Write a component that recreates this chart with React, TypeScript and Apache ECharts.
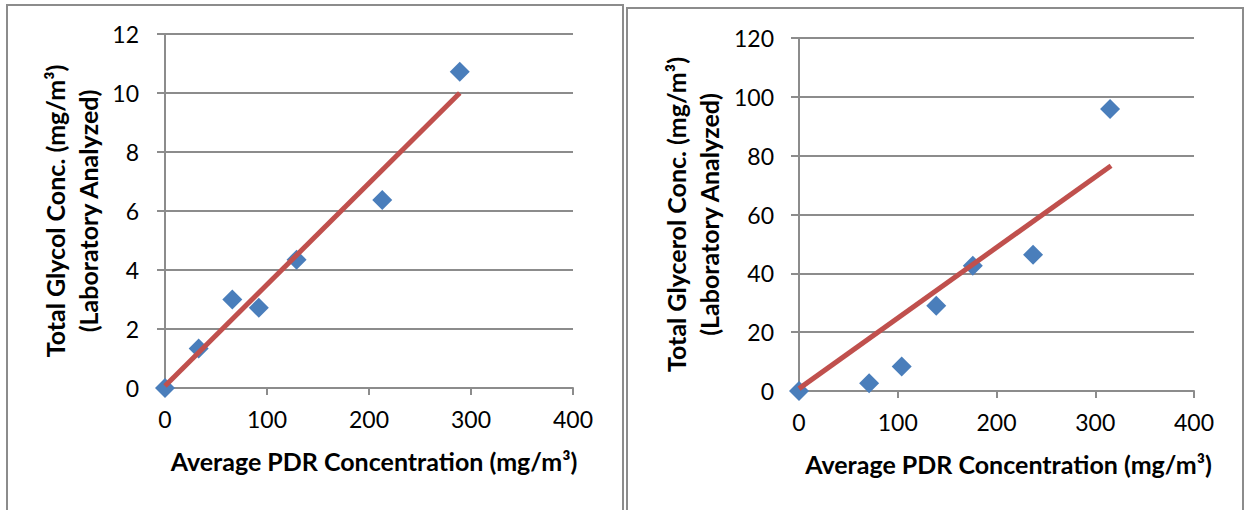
import React, { useEffect, useRef } from "react";
import * as echarts from "echarts";

const xTickValues = [0, 100, 200, 300, 400];
const glycolX = [0, 33, 66, 92, 129, 213, 289];
const glycolY = [0, 1.34, 3.0, 2.72, 4.35, 6.37, 10.72];
const glycolTrendX = [0, 289];
const glycolTrendY = [0.07, 10.0];
const glycerolX = [0, 71, 104, 139, 176, 237, 315];
const glycerolY = [0, 2.6, 8.3, 29.0, 42.6, 46.3, 95.9];
const glycerolTrendX = [0, 316];
const glycerolTrendY = [0.8, 76.6];

const xTitle = "Average PDR Concentration (mg/m³)";
const leftYTitle = "Total Glycol Conc. (mg/m³)\n(Laboratory Analyzed)";
const rightYTitle = "Total Glycerol Conc. (mg/m³)\n(Laboratory Analyzed)";

const GREY = "#8c8c8c";
const FONT = "Lato";
const BLUE = "#4A7EBB";
const RED = "#C0504D";

function pairs(xs: number[], ys: number[]) {
  return xs.map((x, i) => [x, ys[i]]);
}

function xAxisCfg(gridIndex: number, shift: number) {
  return {
    type: "value",
    gridIndex,
    min: xTickValues[0],
    max: xTickValues[xTickValues.length - 1],
    interval: 100,
    axisLine: { show: true, onZero: false, lineStyle: { color: GREY, width: 2 } },
    axisTick: { show: true, length: 7, lineStyle: { color: GREY, width: 2 } },
    splitLine: { show: false },
    axisLabel: { color: "#000", fontSize: 23, fontFamily: FONT, margin: 19 },
    name: xTitle,
    nameLocation: "middle",
    nameGap: 60,
    nameTextStyle: {
      fontWeight: "bold",
      fontSize: 25,
      color: "#000",
      fontFamily: FONT,
      padding: [0, 0, 0, shift * 2],
    },
  };
}

function yAxisCfg(
  gridIndex: number,
  max: number,
  interval: number,
  name: string,
  margin: number,
  gap: number
) {
  return {
    type: "value",
    gridIndex,
    min: 0,
    max,
    interval,
    axisLine: { show: true, onZero: false, lineStyle: { color: GREY, width: 2 } },
    axisTick: { show: true, length: 8, lineStyle: { color: GREY, width: 2 } },
    splitLine: { show: true, lineStyle: { color: GREY, width: 2 } },
    axisLabel: { color: "#000", fontSize: 23, fontFamily: FONT, margin },
    name,
    nameLocation: "middle",
    nameRotate: 90,
    nameGap: gap,
    nameTextStyle: {
      fontWeight: "bold",
      fontSize: 25,
      lineHeight: 33,
      color: "#000",
      fontFamily: FONT,
    },
  };
}

export default function App() {
  const ref = useRef<HTMLDivElement>(null);
  useEffect(() => {
    if (!ref.current) return;
    const chart = echarts.init(ref.current, undefined, { renderer: "svg" });
    chart.setOption({
      animation: false,
      backgroundColor: "#ffffff",
      textStyle: { fontFamily: FONT },
      graphic: [
        {
          type: "rect",
          shape: { x: 7, y: 5, width: 616, height: 520 },
          style: { fill: "none", stroke: GREY, lineWidth: 2 },
          silent: true,
        },
        {
          type: "rect",
          shape: { x: 627, y: 8, width: 616, height: 520 },
          style: { fill: "none", stroke: GREY, lineWidth: 2 },
          silent: true,
        },
      ],
      grid: [
        { left: 165, top: 34, width: 408, height: 354 },
        { left: 799, top: 38, width: 395, height: 353 },
      ],
      xAxis: [xAxisCfg(0, 5), xAxisCfg(1, 12)],
      yAxis: [
        yAxisCfg(0, 12, 2, leftYTitle, 26, 61),
        yAxisCfg(1, 120, 20, rightYTitle, 25, 74),
      ],
      series: [
        {
          type: "scatter",
          xAxisIndex: 0,
          yAxisIndex: 0,
          symbol: "diamond",
          symbolSize: 20,
          itemStyle: { color: BLUE, opacity: 1 },
          data: pairs(glycolX, glycolY),
        },
        {
          type: "line",
          xAxisIndex: 0,
          yAxisIndex: 0,
          symbol: "none",
          lineStyle: { color: RED, width: 5 },
          data: pairs(glycolTrendX, glycolTrendY),
        },
        {
          type: "scatter",
          xAxisIndex: 1,
          yAxisIndex: 1,
          symbol: "diamond",
          symbolSize: 20,
          itemStyle: { color: BLUE, opacity: 1 },
          data: pairs(glycerolX, glycerolY),
        },
        {
          type: "line",
          xAxisIndex: 1,
          yAxisIndex: 1,
          symbol: "none",
          lineStyle: { color: RED, width: 5 },
          data: pairs(glycerolTrendX, glycerolTrendY),
        },
      ],
    });
    return () => chart.dispose();
  }, []);
  return (
    <div
      ref={ref}
      style={{ position: "absolute", left: 0, top: 0, width: 1244, height: 510 }}
    />
  );
}
